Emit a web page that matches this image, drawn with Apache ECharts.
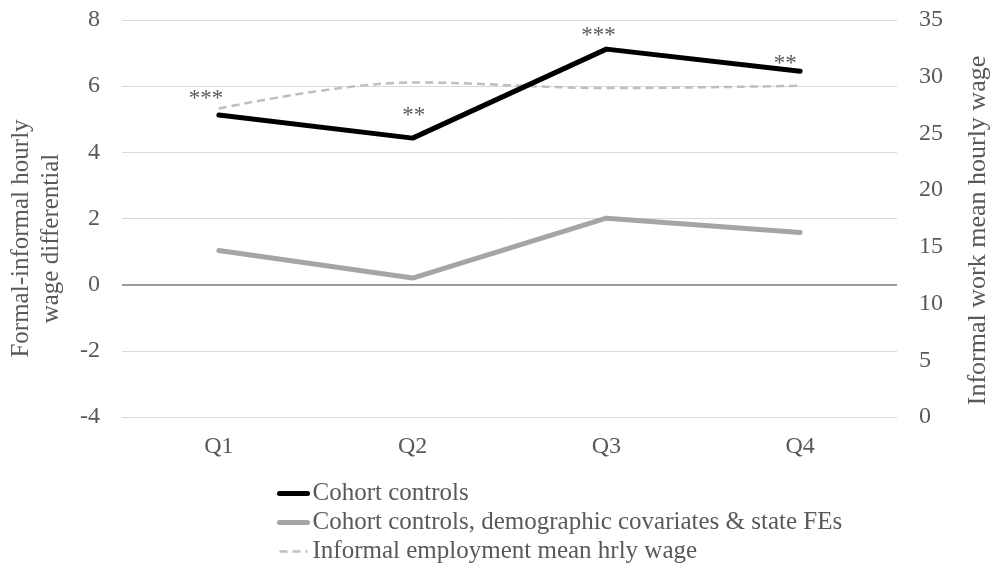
<!DOCTYPE html>
<html>
<head>
<meta charset="utf-8">
<script src="https://cdn.jsdelivr.net/npm/echarts@6/dist/echarts.min.js"></script>
<style>
  html, body { margin: 0; padding: 0; background: #fff; }
  #chart { width: 993px; height: 564px; }
</style>
</head>
<body>
<div id="chart"></div>
<script>
// Quarters on the horizontal axis
var quarters = ['Q1', 'Q2', 'Q3', 'Q4'];
// Formal-informal hourly wage differential, cohort controls only
var cohortControls = [5.13, 4.43, 7.12, 6.45];
// Significance stars for the cohort-controls estimates
var cohortStars = ['***', '**', '***', '**'];
// Differential with cohort controls, demographic covariates & state FEs
var fullControls = [1.03, 0.20, 2.01, 1.58];
// Informal employment mean hourly wage (right axis)
var informalWage = [27.2, 29.5, 29.0, 29.2];

var FONT = '"Liberation Serif", "Times New Roman", serif';
var TXT = '#595959';

// Label offsets place the stars just above / left of each point
var starOffsets = [[-13, 2], [1, -5], [-8, 4], [-15, 10]];

var chart = echarts.init(document.getElementById('chart'));
chart.setOption({
  animation: false,
  backgroundColor: '#ffffff',
  textStyle: { fontFamily: FONT },
  grid: { left: 122, right: 96, top: 20, bottom: 147, outerBoundsMode: 'none', containLabel: false },
  legend: {
    orient: 'vertical',
    left: 277,
    top: 481,
    height: 83,
    padding: 0,
    itemWidth: 28,
    itemHeight: 12,
    itemGap: 4,
    itemStyle: { opacity: 0 },
    textStyle: { fontFamily: FONT, fontSize: 25, color: TXT },
    data: [
      { name: 'Cohort controls', lineStyle: { width: 5, cap: 'round' } },
      { name: 'Cohort controls, demographic covariates & state FEs', lineStyle: { width: 5, cap: 'round' } },
      { name: 'Informal employment mean hrly wage', lineStyle: { width: 2.5 } }
    ]
  },
  xAxis: {
    type: 'category',
    data: quarters,
    position: 'bottom',
    axisLine: { show: false, onZero: false },
    axisTick: { show: false },
    axisLabel: { fontFamily: FONT, fontSize: 24, color: TXT, margin: 18 }
  },
  yAxis: [
    {
      type: 'value',
      min: -4, max: 8, interval: 2,
      name: 'Formal-informal hourly\nwage differential',
      nameLocation: 'middle',
      nameRotate: 90,
      nameGap: 56,
      nameTextStyle: { fontFamily: FONT, fontSize: 25, color: TXT, lineHeight: 30, padding: [0, 40, 0, 0] },
      axisLine: { show: false },
      axisTick: { show: false },
      axisLabel: { fontFamily: FONT, fontSize: 24, color: TXT, margin: 22 },
      splitLine: { show: true, lineStyle: { color: '#d9d9d9', width: 1 } }
    },
    {
      type: 'value',
      min: 0, max: 35, interval: 5,
      name: 'Informal work mean hourly wage',
      nameLocation: 'middle',
      nameRotate: 90,
      nameGap: 68,
      nameTextStyle: { fontFamily: FONT, fontSize: 26, color: TXT, padding: [0, 24, 0, 0] },
      axisLine: { show: false },
      axisTick: { show: false },
      axisLabel: { fontFamily: FONT, fontSize: 24, color: TXT, margin: 22 },
      splitLine: { show: false }
    }
  ],
  series: [
    {
      name: 'Cohort controls',
      type: 'line',
      yAxisIndex: 0,
      symbol: 'circle',
      symbolSize: 0,
      z: 4,
      lineStyle: { color: '#000000', width: 5, cap: 'round', join: 'round' },
      itemStyle: { color: '#000000' },
      data: cohortControls.map(function (v, i) {
        return {
          value: v,
          label: {
            show: true,
            position: 'top',
            distance: 6,
            offset: starOffsets[i],
            formatter: cohortStars[i],
            fontFamily: FONT,
            fontSize: 23,
            color: TXT
          }
        };
      })
    },
    {
      name: 'Cohort controls, demographic covariates & state FEs',
      type: 'line',
      yAxisIndex: 0,
      symbol: 'none',
      z: 3,
      lineStyle: { color: '#a5a5a5', width: 5, cap: 'round', join: 'round' },
      itemStyle: { color: '#a5a5a5' },
      data: fullControls,
      markLine: {
        silent: true,
        symbol: 'none',
        label: { show: false },
        lineStyle: { color: '#7f7f7f', width: 1.5, type: 'solid' },
        data: [{ yAxis: 0 }]
      }
    },
    {
      name: 'Informal employment mean hrly wage',
      type: 'line',
      yAxisIndex: 1,
      symbol: 'none',
      smooth: 0.35,
      z: 2,
      lineStyle: { color: '#bfbfbf', width: 2.5, type: [8, 5] },
      itemStyle: { color: '#bfbfbf' },
      data: informalWage
    }
  ]
});
</script>
</body>
</html>
